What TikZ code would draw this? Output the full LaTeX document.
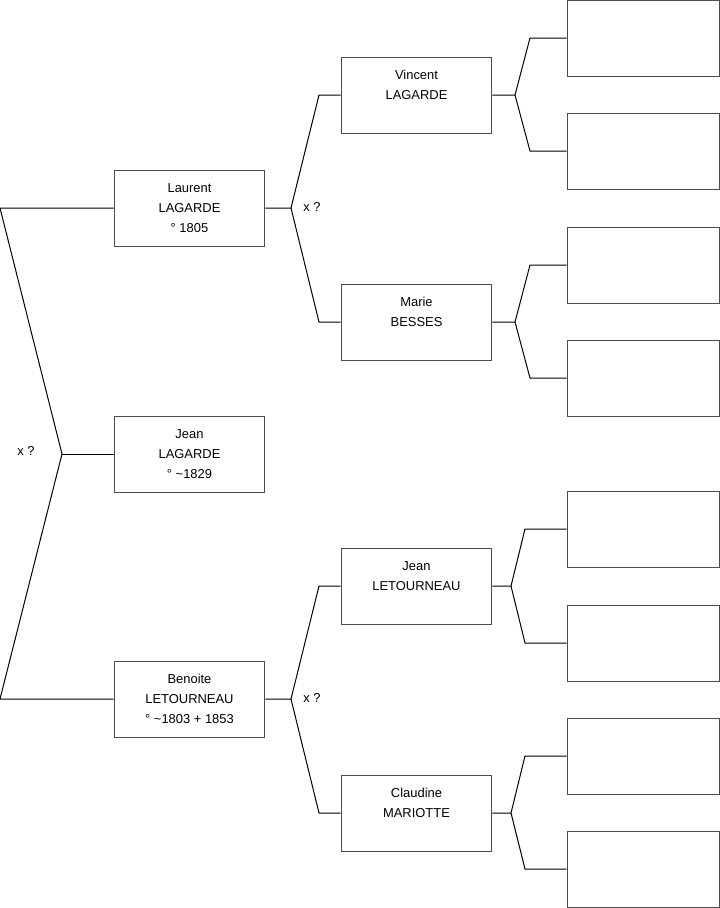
\documentclass[tikz,border=0pt]{standalone}
\usepackage{fontspec}
\setmainfont{Liberation Sans}
\usetikzlibrary{positioning}

\begin{document}
\begin{tikzpicture}[
    x=0.75pt, y=-0.75pt,
    person/.style={draw=black!70, line width=0.75pt, minimum width=113pt, minimum height=57pt,
      align=center, font=\fontsize{9.7}{15}\selectfont, inner sep=0pt},
    emptybox/.style={person, minimum width=114pt},
    link/.style={draw=black, line width=0.75pt},
    couple/.style={font=\fontsize{9.7}{11}\selectfont, inner sep=0pt}
  ]
    \useasboundingbox (0,0) rectangle (719,908);
    % generation 1
    \node[person] (laurent) at (189.5,208) {Laurent\\LAGARDE\\° 1805};
    \node[person] (jean) at (189.5,454) {Jean\\LAGARDE\\° \textasciitilde1829};
    \node[person] (benoite) at (189.5,699) {Benoite\\LETOURNEAU\\° \textasciitilde1803 + 1853};
    % generation 2
    \node[person] (vincent) at (416.5,95) {Vincent\\LAGARDE\\\mbox{}};
    \node[person] (marie) at (416.5,322) {Marie\\BESSES\\\mbox{}};
    \node[person] (jeanl) at (416.5,586) {Jean\\LETOURNEAU\\\mbox{}};
    \node[person] (claudine) at (416.5,813) {Claudine\\MARIOTTE\\\mbox{}};
    % generation 3
    \foreach \i/\y in {1/38,2/151,3/265,4/378,5/529,6/643,7/756,8/869} {
      \node[emptybox] (e\i) at (643,\y) {};
    }
    % couples
    \node[couple] (x1) at (26,451) {x ?};
    \node[couple] (x2) at (312,207) {x ?};
    \node[couple] (x3) at (312,698) {x ?};
    % left bracket
    \coordinate (l0) at (0,0 |- laurent.west);
    \coordinate (b0) at (0,0 |- benoite.west);
    \coordinate (fj) at (62,0 |- jean.west);
    \draw[link] (laurent.west) -- (l0) -- (fj) -- (b0) -- (benoite.west);
    \draw[link] (fj) -- (jean.west);
    % parents forks
    \foreach \p/\t/\b/\fx/\kx in {laurent/vincent/marie/291/319, benoite/jeanl/claudine/291/319,
        vincent/e1/e2/515/530, marie/e3/e4/515/530, jeanl/e5/e6/511/525, claudine/e7/e8/511/525} {
      \coordinate (\p-f) at (\fx,0 |- \p.east);
      \draw[link] (\p.east) -- (\p-f) -- (\kx,0 |- \t.west) -- (\t.west);
      \draw[link] (\p-f) -- (\kx,0 |- \b.west) -- (\b.west);
    }
\end{tikzpicture}
\end{document}
